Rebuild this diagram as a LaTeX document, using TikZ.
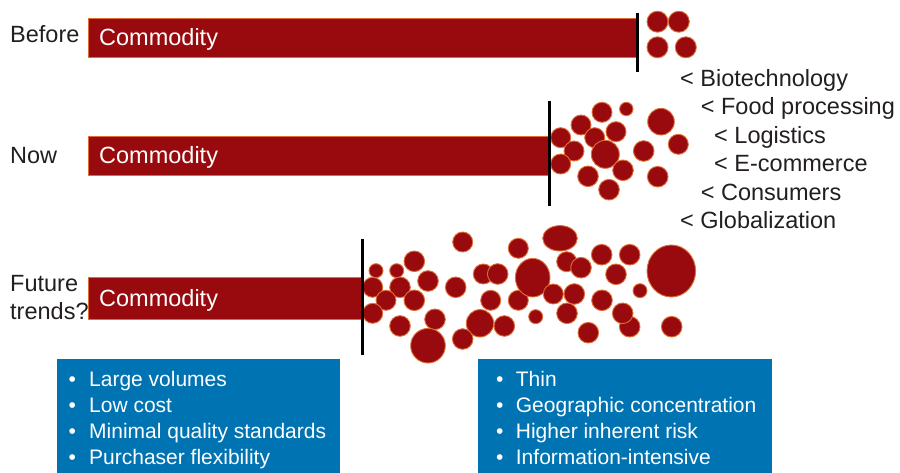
\documentclass[tikz,border=0pt]{standalone}
\usepackage{fontspec}
\setmainfont{Liberation Sans}
\definecolor{barred}{HTML}{990A0E}
\definecolor{edgeor}{HTML}{DE6E36}
\definecolor{ink}{HTML}{231F20}
\definecolor{boxblue}{HTML}{0073B2}
\begin{document}
\begin{tikzpicture}[x=1pt,y=-1pt,
  lbl/.style={anchor=base west, inner sep=0pt, text=ink, font=\fontsize{23.5}{28}\selectfont},
  wlbl/.style={anchor=base west, inner sep=0pt, text=white, font=\fontsize{23.5}{28}\selectfont},
  bul/.style={anchor=base west, inner sep=0pt, text=white, font=\fontsize{21}{25}\selectfont},
  bdot/.style={anchor=base, inner sep=0pt, text=white, font=\fontsize{21}{25}\selectfont},
  blob/.style={fill=barred, draw=edgeor, line width=0.9pt},
  barbox/.style={fill=barred, draw=edgeor, line width=0.8pt},
  divider/.style={line width=3pt, black},
  bluebox/.style={fill=boxblue, draw=none}]
\useasboundingbox (0,0) rectangle (900,473);
\fill[white] (0,0) rectangle (900,473);

% ---------- Before ----------
\draw[barbox] (88,18) rectangle (637,57);
\node[lbl] (before) at (10,43) {Before};
\node[wlbl] (c1) at (99,46) {Commodity};
\foreach \x/\y/\r in {657.5/21.7/10.5, 678.8/21.7/10.5, 657.5/47.3/10.5, 685.8/47.3/10.5}
  \draw[blob] (\x,\y) circle[radius=\r pt];
\coordinate (l1a) at (637,13);
\coordinate (l1b) at (637,72);
\draw[divider] (l1a) -- (l1b);

% ---------- Now ----------
\draw[barbox] (88,136) rectangle (549,175);
\node[lbl] (now) at (10,164) {Now};
\node[wlbl] (c2) at (99,164) {Commodity};
\foreach \x/\y/\r in {602/112.3/10, 626.3/109/6.7, 581/125/10, 616/131.7/10, 560.7/137.7/10,
  594.7/137.7/10, 661/121.7/13.3, 678.3/144.3/10, 574/151/10, 605.3/154.3/14,
  643.7/151/10.3, 560.7/164/10, 588/176.3/10.3, 623/170.3/10.3, 657.7/176.7/10.3, 609/189.7/10.3}
  \draw[blob] (\x,\y) circle[radius=\r pt];
\coordinate (l2a) at (549,101);
\coordinate (l2b) at (549,206);
\draw[divider] (l2a) -- (l2b);

% ---------- Future ----------
\draw[barbox] (88,277.5) rectangle (362,319);
\node[lbl] (fut1) at (10,291.7) {Future};
\node[lbl] (fut2) at (10,319.3) {trends?};
\node[wlbl] (c3) at (99,306.5) {Commodity};
\foreach \x/\y/\r in {462.7/242/10, 376/270.7/7, 396.7/270.7/7, 414.3/261.3/10.3, 428/281/10.3,
  372.7/287.3/10, 400/287.3/10.3, 455.7/287.3/10.3, 483.3/274/10, 497.7/274/10.3,
  518.3/248.3/10, 386/300.3/10, 414.3/300.3/10.3, 490.7/300.3/10, 518.3/300.3/10,
  372.7/313.3/10, 400/326/10.3, 435/319.3/10.3, 480/323.3/13.7, 504.3/326/10.3,
  535.7/316.7/7, 428/345.7/17.3, 462.7/339/10.3}
  \draw[blob] (\x,\y) circle[radius=\r pt];
\draw[blob] (532.7,277.7) ellipse[x radius=17.3pt, y radius=19.3pt];
\draw[blob] (560,238.3) ellipse[x radius=17.3pt, y radius=12.7pt];
\foreach \x/\y/\r in {566.7/261.7/10, 581/267.7/10.3, 601.7/254.7/10.3, 629.7/254.7/10.3,
  616/274.3/10.3, 640/290.7/7, 553.3/294/10, 574.3/294/10.3, 602/300.3/10.3,
  567/313.3/10.3, 629.7/326.7/10.3, 622.7/313.3/10.3, 588.3/332.7/10.3, 671.7/326.7/10.3}
  \draw[blob] (\x,\y) circle[radius=\r pt];
\draw[blob] (671.3,271) ellipse[x radius=24.3pt, y radius=26pt];
\coordinate (l3a) at (362,239);
\coordinate (l3b) at (362,355);
\draw[divider] (l3a) -- (l3b);

% ---------- Drivers list ----------
\node[lbl] (d1) at (680,86.5) {< Biotechnology};
\node[lbl] (d2) at (700.7,115) {< Food processing};
\node[lbl] (d3) at (714,143.5) {< Logistics};
\node[lbl] (d4) at (714,172) {< E-commerce};
\node[lbl] (d5) at (700.7,200.5) {< Consumers};
\node[lbl] (d6) at (680,229) {< Globalization};

% ---------- Blue boxes ----------
\fill[bluebox] (57.3,359) rectangle (340,473);
\fill[bluebox] (478,359) rectangle (771.7,473);
\foreach \t [count=\i] in {Large volumes, Low cost, Minimal quality standards, Purchaser flexibility} {
  \node[bdot] (lb\i) at (72.3,386.7+25.8*\i-25.8) {•};
  \node[bul] (lt\i) at (89,386.7+25.8*\i-25.8) {\t};
}
\foreach \t [count=\i] in {Thin, Geographic concentration, Higher inherent risk, Information-intensive} {
  \node[bdot] (rb\i) at (499.7,386.7+25.8*\i-25.8) {•};
  \node[bul] (rt\i) at (515.7,386.7+25.8*\i-25.8) {\t};
}
\end{tikzpicture}
\end{document}
